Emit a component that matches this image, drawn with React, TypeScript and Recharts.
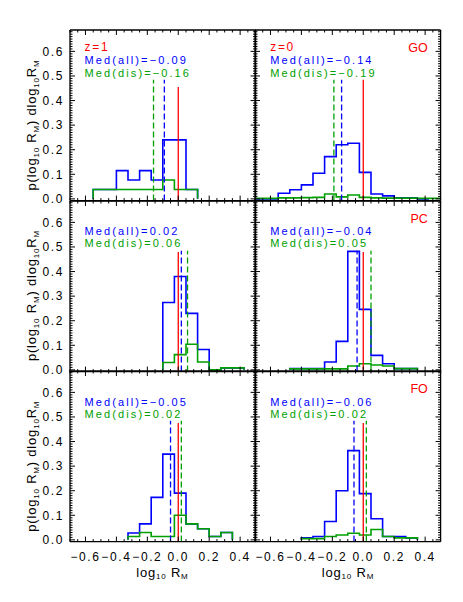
import React from 'react';
import { LineChart, Line, XAxis, YAxis, ReferenceLine } from 'recharts';

// histogram bin edges in log10 R_M
const EDGES = [-0.7, -0.625, -0.55, -0.475, -0.4, -0.325, -0.25, -0.175, -0.1, -0.025, 0.05, 0.125, 0.2, 0.275, 0.35, 0.425, 0.5];

// one value per bin, null = bin not drawn
const goZ1All = [null, null, 0.038, 0.038, 0.115, 0.077, 0.115, 0.077, 0.24, 0.24, 0.038, null, null, null, null, null];
const goZ1Dis = [null, null, 0.038, 0.038, 0.038, 0.038, 0.038, 0.038, 0.077, 0.038, 0.038, null, null, null, null, null];
const goZ0All = [0, 0, 0.023, 0.037, 0.057, 0.104, 0.172, 0.22, 0.226, 0.108, 0.02, 0.012, 0.004, 0.004, 0, null];
const goZ0Dis = [0.002, 0.002, 0.004, 0.004, 0.005, 0.006, 0.02, 0.008, 0.016, 0.006, 0.004, 0.003, 0.003, 0.003, 0.002, 0.002];
const pcZ1All = [null, null, null, null, null, null, null, null, 0.274, 0.38, 0.23, 0.083, 0, 0.008, 0.008, null];
const pcZ1Dis = [null, null, null, null, null, null, null, null, 0.03, 0.062, 0.104, 0.032, 0, 0.008, 0.008, null];
const pcZ0All = [null, null, null, 0.005, 0.005, 0.005, 0.032, 0.116, 0.482, 0.246, 0.059, 0.025, 0.005, 0.005, null, null];
const pcZ0Dis = [null, null, null, 0.004, 0.004, 0.004, 0.004, 0.004, 0.016, 0.025, 0.02, 0.016, 0.005, 0.005, null, null];
const foZ1All = [null, null, null, null, null, 0.028, 0.065, 0.173, 0.349, 0.19, 0.065, 0.045, 0.014, 0.03, null, null];
const foZ1Dis = [null, null, null, null, null, 0.014, 0.03, 0.014, 0.014, 0.1, 0.065, 0.045, 0.014, 0.03, null, null];
const foZ0All = [null, null, null, null, 0.008, 0.014, 0.075, 0.2, 0.363, 0.188, 0.086, 0.014, 0.014, 0.008, null, null];
const foZ0Dis = [null, null, null, null, 0.005, 0.005, 0.014, 0.02, 0.027, 0.02, 0.042, 0.014, 0.008, 0.008, null, null];

const samples = ['GO', 'PC', 'FO'];
const redshifts = ['z=1', 'z=0'];
const medAllZ1 = [-0.09, 0.02, -0.05];
const medDisZ1 = [-0.16, 0.06, 0.02];
const medAllZ0 = [-0.14, -0.04, -0.06];
const medDisZ0 = [-0.19, 0.05, 0.02];
const redTopZ1 = [0.455, 0.48, 0.475];
const redTopZ0 = [0.485, 0.48, 0.475];
const DASH_TOP = 0.485;

const X_TICKS = [-0.7, -0.65, -0.6, -0.55, -0.5, -0.45, -0.4, -0.35, -0.3, -0.25, -0.2, -0.15, -0.1, -0.05, 0, 0.05, 0.1, 0.15, 0.2, 0.25, 0.3, 0.35, 0.4, 0.45, 0.5];
const Y_TICKS = Array.from({ length: 69 }, (_, i) => i / 100);

const X_DOMAIN: [number, number] = [-0.7, 0.5];
const Y_DOMAIN: [number, number] = [-0.007, 0.687];

const BLUE = '#0000ff';
const GREEN = '#00a000';
const RED = '#ff0000';
const FONT = '"Liberation Sans", Arial, sans-serif';

const COL_X = [69.6, 255.2];
const ROW_Y = [30, 200.6, 371.2];
const PW = 185.6;
const PH = 170.6;
// space around each plot; axes take 1px of it on every side
const M = { top: 6, right: 6, bottom: 30, left: 45 };
const CHART_MARGIN = { top: M.top - 1, right: M.right - 1, bottom: M.bottom - 1, left: M.left - 1 };

const fmt = (v: number, d: number) => (v < 0 ? '\u2212' : '') + Math.abs(v).toFixed(d);
const isMajorX = (v: number) => Math.abs(v * 5 - Math.round(v * 5)) < 1e-6;
const isMajorY = (v: number) => Math.abs(v * 10 - Math.round(v * 10)) < 1e-6;

function steps(vals: (number | null)[]) {
  const idx = vals.map((v, i) => (v == null ? -1 : i)).filter(i => i >= 0);
  const first = idx[0];
  const last = idx[idx.length - 1];
  const pts = [{ x: EDGES[first], y: 0 }];
  for (let i = first; i <= last; i++) pts.push({ x: EDGES[i], y: vals[i] as number });
  pts.push({ x: EDGES[last + 1], y: vals[last] as number });
  pts.push({ x: EDGES[last + 1], y: 0 });
  return pts;
}

const bottomTick = (showLabel: boolean) => (p: any) => {
  const v = p.payload.value;
  const major = isMajorX(v);
  return (
    <g>
      <line x1={p.x} x2={p.x} y1={p.y} y2={p.y - (major ? 5 : 2.5)} stroke="#000" strokeWidth={1} />
      {showLabel && major && (
        <text x={p.x} y={p.y + 19} textAnchor="middle" fontSize={12} letterSpacing={1.6} fill="#000" fontFamily={FONT}>{fmt(v, 1)}</text>
      )}
    </g>
  );
};
const topTick = (p: any) => {
  const major = isMajorX(p.payload.value);
  return <line x1={p.x} x2={p.x} y1={p.y} y2={p.y + (major ? 5 : 2.5)} stroke="#000" strokeWidth={1} />;
};
const leftTick = (showLabel: boolean) => (p: any) => {
  const v = p.payload.value;
  const major = isMajorY(v);
  return (
    <g>
      <line x1={p.x} x2={p.x + (major ? 5 : 2.5)} y1={p.y} y2={p.y} stroke="#000" strokeWidth={1} />
      {showLabel && major && (
        <text x={p.x - 6} y={p.y + 4.3} textAnchor="end" fontSize={12} letterSpacing={1.6} fill="#000" fontFamily={FONT}>{fmt(v, 1)}</text>
      )}
    </g>
  );
};
const rightTick = (p: any) => {
  const major = isMajorY(p.payload.value);
  return <line x1={p.x} x2={p.x - (major ? 5 : 2.5)} y1={p.y} y2={p.y} stroke="#000" strokeWidth={1} />;
};

const AXIS = { stroke: '#000', strokeWidth: 1.3 };

function Panel({ row, col, all, dis, medAll, medDis, redTop }: any) {
  const showX = row === 2;
  const showY = col === 0;
  return (
    <div style={{ position: 'absolute', left: COL_X[col] - M.left, top: ROW_Y[row] - M.top }}>
      <LineChart width={PW + M.left + M.right} height={PH + M.top + M.bottom} margin={CHART_MARGIN}>
        <XAxis dataKey="x" type="number" domain={X_DOMAIN} ticks={X_TICKS} interval={0} allowDataOverflow
          height={1} tickSize={0} tickMargin={0} tickLine={false} axisLine={AXIS} tick={bottomTick(showX)} />
        <XAxis xAxisId="t" orientation="top" dataKey="x" type="number" domain={X_DOMAIN} ticks={X_TICKS} interval={0} allowDataOverflow
          height={1} tickSize={0} tickMargin={0} tickLine={false} axisLine={AXIS} tick={topTick} />
        <YAxis type="number" domain={Y_DOMAIN} ticks={Y_TICKS} interval={0} allowDataOverflow
          width={1} tickSize={0} tickMargin={0} tickLine={false} axisLine={AXIS} tick={leftTick(showY)} />
        <YAxis yAxisId="r" orientation="right" type="number" domain={Y_DOMAIN} ticks={Y_TICKS} interval={0} allowDataOverflow
          width={1} tickSize={0} tickMargin={0} tickLine={false} axisLine={AXIS} tick={rightTick} />
        <Line data={steps(all)} dataKey="y" type="stepAfter" stroke={BLUE} strokeWidth={1.6} dot={false} isAnimationActive={false} />
        <Line data={steps(dis)} dataKey="y" type="stepAfter" stroke={GREEN} strokeWidth={1.6} dot={false} isAnimationActive={false} />
        <ReferenceLine segment={[{ x: 0, y: Y_DOMAIN[0] }, { x: 0, y: redTop }]} stroke={RED} strokeWidth={1.3} ifOverflow="visible" />
        <ReferenceLine segment={[{ x: medAll, y: Y_DOMAIN[0] }, { x: medAll, y: DASH_TOP }]} stroke={BLUE} strokeWidth={1.3} strokeDasharray="6 3" ifOverflow="visible" />
        <ReferenceLine segment={[{ x: medDis, y: Y_DOMAIN[0] }, { x: medDis, y: DASH_TOP }]} stroke={GREEN} strokeWidth={1.3} strokeDasharray="6 3" ifOverflow="visible" />
      </LineChart>
    </div>
  );
}

function YTitle({ cx, cy }: { cx: number; cy: number }) {
  return (
    <text x={cx} y={cy} transform={`rotate(-90 ${cx} ${cy})`} textAnchor="middle" fontSize={13} letterSpacing={0.8} fontFamily={FONT} fill="#000">
      p(log<tspan fontSize={8} dy={3}>10</tspan><tspan dy={-3}> R</tspan><tspan fontSize={8} dy={3}>M</tspan>
      <tspan dy={-3}>) dlog</tspan><tspan fontSize={8} dy={3}>10</tspan><tspan dy={-3}>R</tspan><tspan fontSize={8} dy={3}>M</tspan>
    </text>
  );
}

function XTitle({ cx, y }: { cx: number; y: number }) {
  return (
    <text x={cx} y={y} textAnchor="middle" fontSize={13} letterSpacing={0.8} fontFamily={FONT} fill="#000">
      log<tspan fontSize={8} dy={2}>10</tspan><tspan dy={-2}> R</tspan><tspan fontSize={8} dy={2}>M</tspan>
    </text>
  );
}

export default function App() {
  const z1 = [goZ1All, goZ1Dis, pcZ1All, pcZ1Dis, foZ1All, foZ1Dis];
  const z0 = [goZ0All, goZ0Dis, pcZ0All, pcZ0Dis, foZ0All, foZ0Dis];
  const panels: any[] = [];
  samples.forEach((_, r) => {
    panels.push({ row: r, col: 0, all: z1[2 * r], dis: z1[2 * r + 1], medAll: medAllZ1[r], medDis: medDisZ1[r], redTop: redTopZ1[r] });
    panels.push({ row: r, col: 1, all: z0[2 * r], dis: z0[2 * r + 1], medAll: medAllZ0[r], medDis: medDisZ0[r], redTop: redTopZ0[r] });
  });
  return (
    <div style={{ position: 'absolute', left: 0, top: 0, width: 463, height: 602, background: '#fff' }}>
      {panels.map(p => <Panel key={`${p.row}-${p.col}`} {...p} />)}
      <svg width={463} height={602} style={{ position: 'absolute', left: 0, top: 0, pointerEvents: 'none' }}>
        {panels.map(p => {
          const x = COL_X[p.col] + 15;
          const t = ROW_Y[p.row];
          return (
            <g key={`t-${p.row}-${p.col}`} fontFamily={FONT} fontSize={11} letterSpacing={2.1}>
              {p.row === 0 && <text x={x} y={t + 20.5} fontSize={12} letterSpacing={1.7} fill={RED}>{redshifts[p.col]}</text>}
              <text x={x} y={t + 34.3} fill={BLUE}>{`Med(all)=${fmt(p.medAll, 2)}`}</text>
              <text x={x} y={t + 46.8} fill={GREEN}>{`Med(dis)=${fmt(p.medDis, 2)}`}</text>
              {p.col === 1 && <text x={COL_X[1] + PW - 13} y={t + 22} textAnchor="end" fontSize={12.5} letterSpacing={0} fill={RED}>{samples[p.row]}</text>}
            </g>
          );
        })}
        {ROW_Y.map(t => <YTitle key={t} cx={36} cy={t + 95} />)}
        {COL_X.map(l => <XTitle key={l} cx={l + PW / 2} y={577} />)}
      </svg>
    </div>
  );
}
